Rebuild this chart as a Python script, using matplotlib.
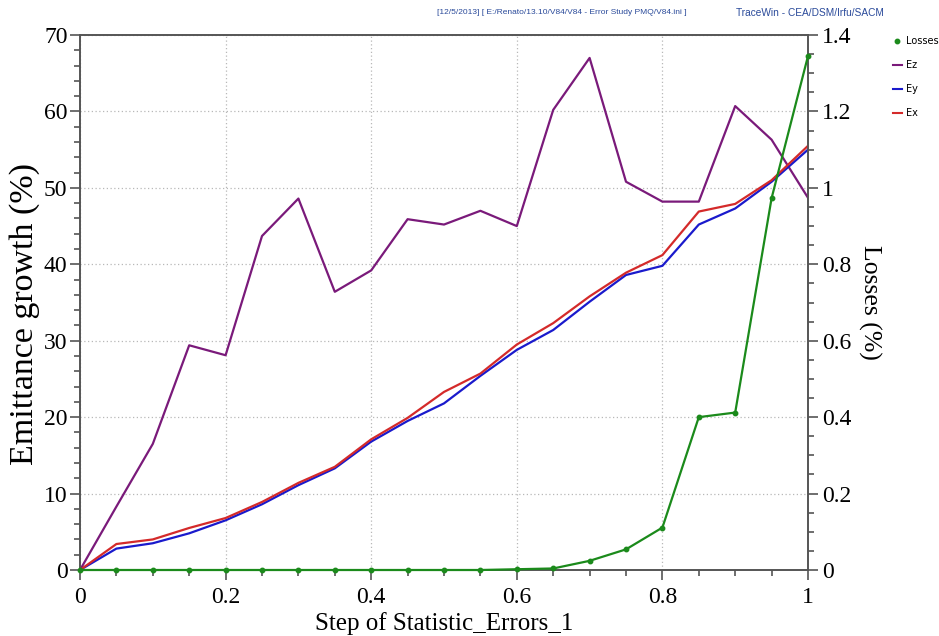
import matplotlib
matplotlib.use("Agg")
import matplotlib.pyplot as plt
from matplotlib.ticker import MultipleLocator
from matplotlib.lines import Line2D

# Error-study results per step of the statistic
step = [0.0, 0.05, 0.1, 0.15, 0.2, 0.25, 0.3, 0.35, 0.4, 0.45, 0.5,
        0.55, 0.6, 0.65, 0.7, 0.75, 0.8, 0.85, 0.9, 0.95, 1.0]
ez = [0.0, 8.3, 16.5, 29.4, 28.1, 43.7, 48.6, 36.4, 39.2, 45.9, 45.2,
      47.0, 45.0, 60.2, 67.0, 50.8, 48.2, 48.2, 60.7, 56.3, 48.7]
ey = [0.0, 2.8, 3.5, 4.8, 6.5, 8.6, 11.1, 13.3, 16.8, 19.5, 21.8,
      25.4, 28.8, 31.4, 35.1, 38.6, 39.8, 45.2, 47.3, 50.8, 55.0]
ex = [0.0, 3.4, 4.0, 5.5, 6.8, 8.9, 11.4, 13.5, 17.1, 19.9, 23.3,
      25.7, 29.5, 32.3, 35.8, 38.9, 41.2, 46.9, 47.9, 51.0, 55.5]
losses = [0.0, 0.0, 0.0, 0.0, 0.0, 0.0, 0.0, 0.0, 0.0, 0.0, 0.0,
          0.0, 0.002, 0.004, 0.024, 0.054, 0.111, 0.40, 0.412, 0.973, 1.345]

header_left = "[12/5/2013] [ E:/Renato/13.10/V84/V84 - Error Study PMQ/V84.ini ]"
header_right = "TraceWin - CEA/DSM/Irfu/SACM"

C_EZ = "#7a1a7a"
C_EY = "#1a1acc"
C_EX = "#d42a2a"
C_LOSS = "#1b8a1b"
SPINE = "#555555"

serif = ["Liberation Serif", "DejaVu Serif"]
sans = ["Liberation Sans", "DejaVu Sans"]

fig = plt.figure(figsize=(9.39, 6.36), dpi=100)
ax = fig.add_axes([80 / 939, 1 - 570 / 636, 728 / 939, 535 / 636])
ax2 = ax.twinx()

ax.plot(step, ez, color=C_EZ, lw=1.6, zorder=3)
ax.plot(step, ey, color=C_EY, lw=1.6, zorder=4)
ax.plot(step, ex, color=C_EX, lw=1.6, zorder=5)
ax2.plot(step, losses, color=C_LOSS, lw=1.6, marker="o", ms=3.2, zorder=6, clip_on=False)

ax.set_xlim(0, 1)
ax.set_ylim(0, 70)
ax2.set_ylim(0, 1.4)

ax.xaxis.set_major_locator(MultipleLocator(0.2))
ax.xaxis.set_minor_locator(MultipleLocator(0.05))
ax.yaxis.set_major_locator(MultipleLocator(10))
ax.yaxis.set_minor_locator(MultipleLocator(2))
ax2.yaxis.set_major_locator(MultipleLocator(0.2))
ax2.yaxis.set_minor_locator(MultipleLocator(0.05))

def fmt(v, _):
    s = f"{v:.1f}"
    return s.rstrip("0").rstrip(".") if "." in s else s

ax.xaxis.set_major_formatter(plt.FuncFormatter(fmt))
ax2.yaxis.set_major_formatter(plt.FuncFormatter(fmt))

ax.grid(True, which="major", color="#b8b8b8", linestyle=(0, (1, 2)), lw=0.9)

for a in (ax, ax2):
    for s in a.spines.values():
        s.set_color(SPINE)
        s.set_linewidth(1.2)
    a.tick_params(which="major", length=7, width=1.2, color=SPINE, direction="out")
    a.tick_params(which="minor", length=4, width=1.2, color=SPINE, direction="out")

ax.tick_params(axis="x", which="major", labelsize=17, pad=5)
ax.tick_params(axis="y", which="major", labelsize=17, pad=2)
ax2.tick_params(axis="y", which="major", labelsize=17, pad=3)
for lab in ax.get_xticklabels() + ax.get_yticklabels() + ax2.get_yticklabels():
    lab.set_family(serif)

ax.set_xlabel("Step of Statistic_Errors_1", family=serif, fontsize=18)
ax.xaxis.set_label_coords(0.5, -0.079)
ax.set_ylabel("Emittance growth (%)", family=serif, fontsize=24.5, va="center")
ax.yaxis.set_label_coords(-0.076, 0.478)
ax2.set_ylabel("Losses (%)", family=serif, fontsize=18.5, rotation=-90, va="center")
ax2.yaxis.set_label_coords(1.084, 0.501)

fig.text(687 / 939, 1 - 13 / 636, header_left, fontsize=6.0, color="#2a4a9a",
         va="center", ha="right", family=sans)
fig.text(884 / 939, 1 - 13 / 636, header_right, fontsize=7.3, color="#2a4a9a",
         va="center", ha="right", family=sans)

handles = [
    Line2D([], [], color=C_LOSS, marker="o", ms=3.2, lw=0),
    Line2D([], [], color=C_EZ, lw=1.5),
    Line2D([], [], color=C_EY, lw=1.5),
    Line2D([], [], color=C_EX, lw=1.5),
]
fig.legend(handles, ["Losses", "Ez", "Ey", "Ex"], loc="upper left",
           bbox_to_anchor=(893 / 939, 1 - 36 / 636), frameon=False,
           fontsize=7, handlelength=0.9, handletextpad=0.45,
           labelspacing=1.45, borderaxespad=0, borderpad=0)

fig.savefig("out.png", dpi=100)
